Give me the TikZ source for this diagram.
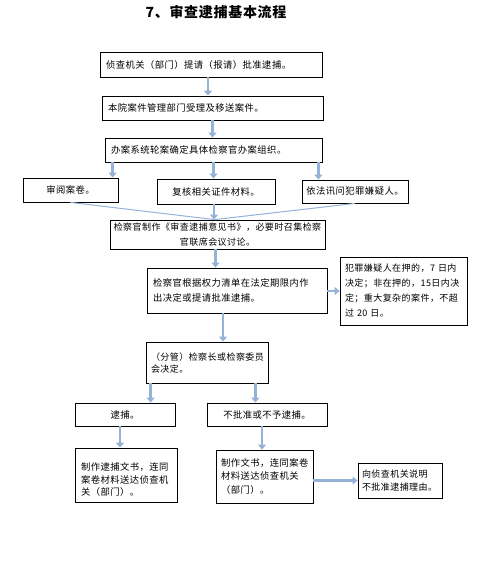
\documentclass[tikz,border=0pt]{standalone}
\usepackage{fontspec}
\usepackage{tikz}
\usetikzlibrary{arrows.meta,positioning,calc}
\newfontfamily\cjk[LetterSpace=5]{Noto Sans CJK SC}
\definecolor{FlowBlue}{RGB}{149,179,215}

\begin{document}
\begin{tikzpicture}[
  x=1pt, y=-1pt,
  font=\cjk\fontsize{9.3}{14}\selectfont,
  >=Triangle,
  flowbox/.style={rectangle, draw=black, line width=0.8pt, inner xsep=6pt, inner ysep=2pt, align=left},
  centerbox/.style={flowbox, inner xsep=3pt, align=center},
  blockarrow/.style={draw=FlowBlue, line width=2.6pt, -{Triangle[length=5pt,width=8pt]}},
  joinline/.style={draw=FlowBlue, line width=1pt},
]
\useasboundingbox (0,0) rectangle (484,584);
\node[font=\cjk\bfseries\fontsize{14}{16}\selectfont] (title) at (216,12) {7、审查逮捕基本流程};

\node[flowbox, text width=210pt, minimum height=25pt] (b1) at (211,64.5) {侦查机关（部门）提请（报请）批准逮捕。};
\node[flowbox, text width=209pt, minimum height=24pt] (b2) at (212.5,108) {本院案件管理部门受理及移送案件。};
\node[flowbox, text width=205pt, minimum height=24pt] (b3) at (213.5,150) {办案系统轮案确定具体检察官办案组织。};
\node[centerbox, text width=89pt, minimum height=24pt] (b4a) at (70.5,190) {审阅案卷。};
\node[centerbox, text width=112pt, minimum height=25pt] (b4b) at (216,191.5) {复核相关证件材料。};
\node[centerbox, text width=100pt, minimum height=23pt] (b4c) at (355,191.5) {依法讯问犯罪嫌疑人。};
\node[centerbox, text width=209pt, minimum height=29pt, font=\cjk\fontsize{9}{15}\selectfont] (b5) at (217.5,234.5) {检察官制作《审查逮捕意见书》，必要时召集检察\\官联席会议讨论。};
\node[flowbox, text width=168pt, minimum height=45pt, font=\cjk\fontsize{9.3}{15}\selectfont] (b6) at (237,290.5) {检察官根据权力清单在法定期限内作\\出决定或提请批准逮捕。};
\node[flowbox, text width=117pt, minimum height=68pt, inner xsep=5pt, font=\cjk\fontsize{9}{15}\selectfont] (b7) at (403.5,291) {犯罪嫌疑人在押的，7 日内\\决定；非在押的，15日内决\\定；重大复杂的案件，不超\\过 20 日。};
\node[flowbox, text width=112pt, minimum height=41pt, inner xsep=5pt, text depth=12pt, font=\cjk\fontsize{9}{12.5}\selectfont] (b8) at (207,362.5) {（分管）检察长或检察委员\\会决定。};
\node[centerbox, text width=94pt, minimum height=23pt] (b9a) at (125,414.5) {逮捕。};
\node[centerbox, text width=114pt, minimum height=23pt] (b9b) at (267,414.5) {不批准或不予逮捕。};
\node[flowbox, text width=90pt, minimum height=54pt, text depth=16pt, font=\cjk\fontsize{9.3}{12.5}\selectfont] (b10a) at (126,475) {制作逮捕文书，连同\\案卷材料送达侦查机\\关（部门）。};
\node[flowbox, text width=87pt, minimum height=53pt, inner xsep=5pt, font=\cjk\fontsize{9.3}{13.5}\selectfont] (b10b) at (264.5,476.5) {制作文书，连同案卷\\材料送达侦查机关\\（部门）。};
\node[flowbox, text width=76pt, minimum height=35pt, inner xsep=4pt, font=\cjk\fontsize{9}{13}\selectfont] (b11) at (400,480.5) {向侦查机关说明\\不批准逮捕理由。};

\draw[blockarrow] ([xshift=-3pt]b1.south) -- ([xshift=-3pt]b1.south |- b2.north);
\draw[blockarrow] (b2.south) -- (b2.south |- b3.north);
\draw[blockarrow] ([xshift=8pt]b3.south west) -- ([xshift=8pt]b3.south west |- b4a.north);
\draw[blockarrow] (b3.south) -- (b3.south |- b4b.north);
\draw[blockarrow] ([xshift=-4pt]b3.south east) -- ([xshift=-4pt]b3.south east |- b4c.north);
\draw[joinline] (b4a.south) -- ([xshift=-3pt]b5.north);
\draw[joinline] (b4c.south) -- ([xshift=-3pt]b5.north);
\draw[blockarrow] ([xshift=-2pt]b4b.south) -- ([xshift=-2pt]b4b.south |- b5.north);
\draw[blockarrow] ([xshift=-2pt]b5.south) -- ([xshift=-2pt]b5.south |- b6.north);
\draw[blockarrow] (b6.east |- b7.west) -- (b7.west);
\draw[blockarrow] ([xshift=-14pt]b6.south) -- ([xshift=-14pt]b6.south |- b8.north);
\draw[blockarrow] ([xshift=5pt]b8.south west) -- ([xshift=5pt]b8.south west |- b9a.north);
\draw[blockarrow] ([xshift=-13pt]b8.south east) -- ([xshift=-13pt]b8.south east |- b9b.north);
\draw[blockarrow] ([xshift=-5pt]b9a.south) -- ([xshift=-5pt]b9a.south |- b10a.north);
\draw[blockarrow] ([xshift=-5pt]b9b.south) -- ([xshift=-5pt]b9b.south |- b10b.north);
\draw[blockarrow] (b10b.east |- b11.west) -- (b11.west);
\end{tikzpicture}
\end{document}
